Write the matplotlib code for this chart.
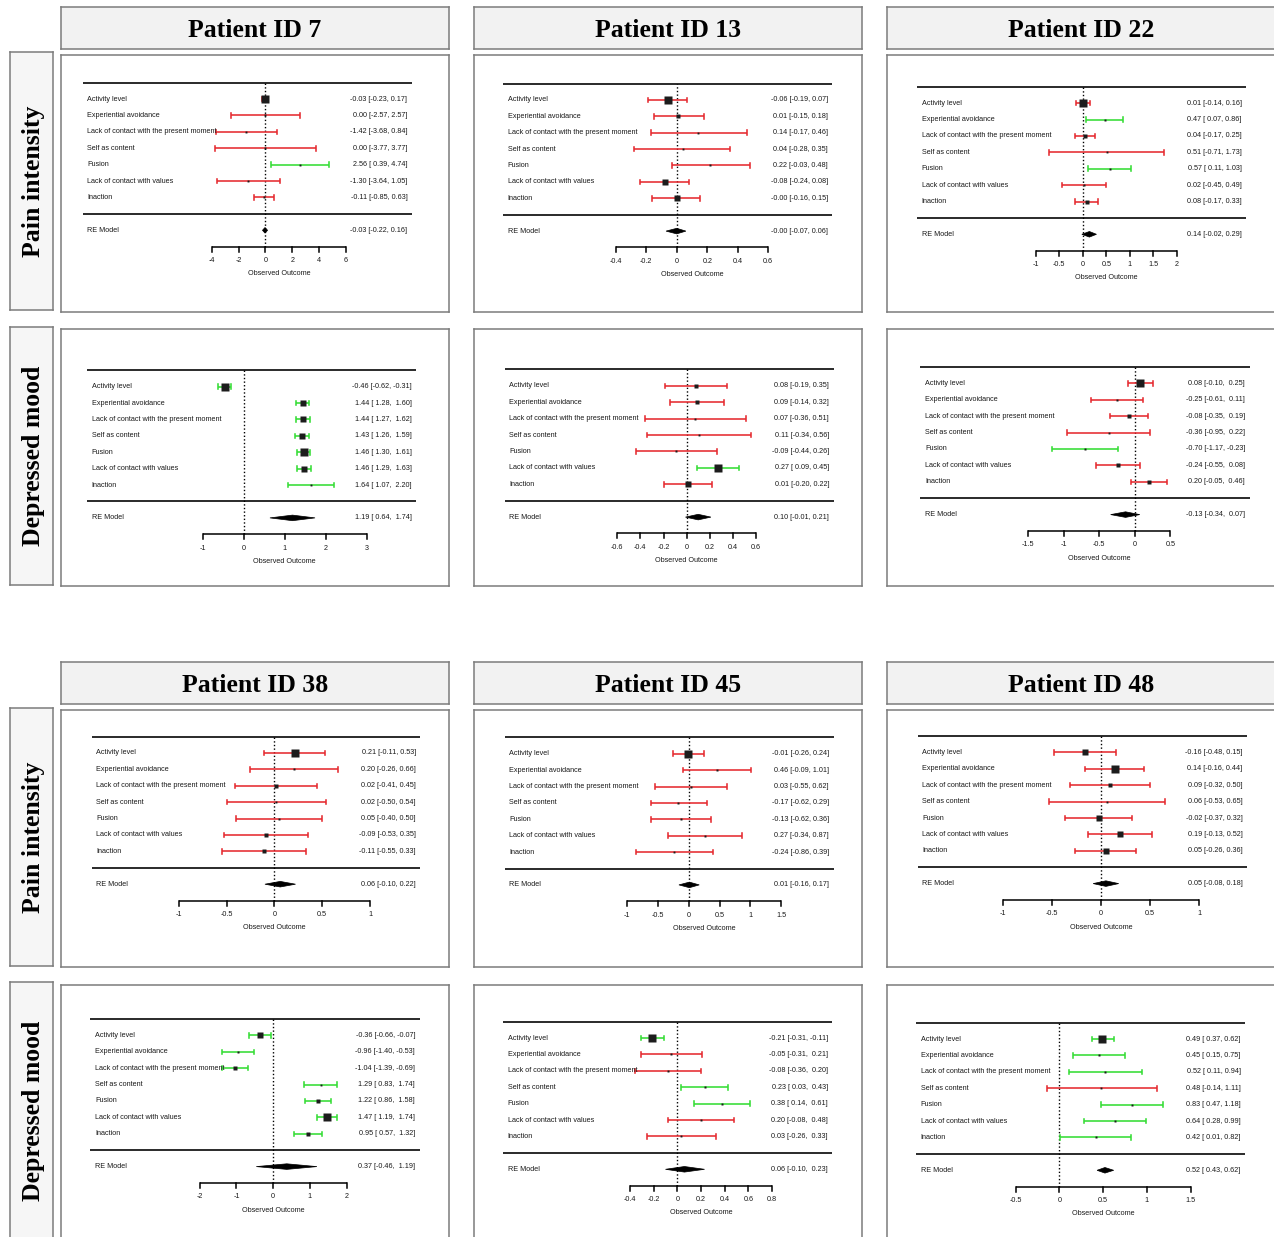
import matplotlib
matplotlib.use("Agg")
import matplotlib.pyplot as plt
from matplotlib.patches import Polygon

plt.rcParams['font.family'] = ['Liberation Sans', 'DejaVu Sans']

# ---------------- DATA ----------------
ITEMS = ["Activity level", "Experiential avoidance",
         "Lack of contact with the present moment", "Self as content",
         "Fusion", "Lack of contact with values", "Inaction"]
PATIENTS_TOP = ["7", "13", "22"]
PATIENTS_BOTTOM = ["38", "45", "48"]
OUTCOMES = ["Pain intensity", "Depressed mood"]

# Patient 7
P7_PAIN_EST = [-0.03, 0.00, -1.42, 0.00, 2.56, -1.30, -0.11]
P7_PAIN_LO = [-0.23, -2.57, -3.68, -3.77, 0.39, -3.64, -0.85]
P7_PAIN_HI = [0.17, 2.57, 0.84, 3.77, 4.74, 1.05, 0.63]
P7_PAIN_RE = [-0.03, -0.22, 0.16]
P7_PAIN_TICKS = [-4, -2, 0, 2, 4, 6]

P7_DEP_EST = [-0.46, 1.44, 1.44, 1.43, 1.46, 1.46, 1.64]
P7_DEP_LO = [-0.62, 1.28, 1.27, 1.26, 1.30, 1.29, 1.07]
P7_DEP_HI = [-0.31, 1.60, 1.62, 1.59, 1.61, 1.63, 2.20]
P7_DEP_RE = [1.19, 0.64, 1.74]
P7_DEP_TICKS = [-1, 0, 1, 2, 3]

# Patient 13
P13_PAIN_EST = [-0.06, 0.01, 0.14, 0.04, 0.22, -0.08, -0.0]
P13_PAIN_LO = [-0.19, -0.15, -0.17, -0.28, -0.03, -0.24, -0.16]
P13_PAIN_HI = [0.07, 0.18, 0.46, 0.35, 0.48, 0.08, 0.15]
P13_PAIN_RE = [-0.0, -0.07, 0.06]
P13_PAIN_TICKS = [-0.4, -0.2, 0, 0.2, 0.4, 0.6]

P13_DEP_EST = [0.08, 0.09, 0.07, 0.11, -0.09, 0.27, 0.01]
P13_DEP_LO = [-0.19, -0.14, -0.36, -0.34, -0.44, 0.09, -0.20]
P13_DEP_HI = [0.35, 0.32, 0.51, 0.56, 0.26, 0.45, 0.22]
P13_DEP_RE = [0.10, -0.01, 0.21]
P13_DEP_TICKS = [-0.6, -0.4, -0.2, 0, 0.2, 0.4, 0.6]

# Patient 22
P22_PAIN_EST = [0.01, 0.47, 0.04, 0.51, 0.57, 0.02, 0.08]
P22_PAIN_LO = [-0.14, 0.07, -0.17, -0.71, 0.11, -0.45, -0.17]
P22_PAIN_HI = [0.16, 0.86, 0.25, 1.73, 1.03, 0.49, 0.33]
P22_PAIN_RE = [0.14, -0.02, 0.29]
P22_PAIN_TICKS = [-1, -0.5, 0, 0.5, 1, 1.5, 2]

P22_DEP_EST = [0.08, -0.25, -0.08, -0.36, -0.70, -0.24, 0.20]
P22_DEP_LO = [-0.10, -0.61, -0.35, -0.95, -1.17, -0.55, -0.05]
P22_DEP_HI = [0.25, 0.11, 0.19, 0.22, -0.23, 0.08, 0.46]
P22_DEP_RE = [-0.13, -0.34, 0.07]
P22_DEP_TICKS = [-1.5, -1, -0.5, 0, 0.5]

# Patient 38
P38_PAIN_EST = [0.21, 0.20, 0.02, 0.02, 0.05, -0.09, -0.11]
P38_PAIN_LO = [-0.11, -0.26, -0.41, -0.50, -0.40, -0.53, -0.55]
P38_PAIN_HI = [0.53, 0.66, 0.45, 0.54, 0.50, 0.35, 0.33]
P38_PAIN_RE = [0.06, -0.10, 0.22]
P38_PAIN_TICKS = [-1, -0.5, 0, 0.5, 1]

P38_DEP_EST = [-0.36, -0.96, -1.04, 1.29, 1.22, 1.47, 0.95]
P38_DEP_LO = [-0.66, -1.40, -1.39, 0.83, 0.86, 1.19, 0.57]
P38_DEP_HI = [-0.07, -0.53, -0.69, 1.74, 1.58, 1.74, 1.32]
P38_DEP_RE = [0.37, -0.46, 1.19]
P38_DEP_TICKS = [-2, -1, 0, 1, 2]

# Patient 45
P45_PAIN_EST = [-0.01, 0.46, 0.03, -0.17, -0.13, 0.27, -0.24]
P45_PAIN_LO = [-0.26, -0.09, -0.55, -0.62, -0.62, -0.34, -0.86]
P45_PAIN_HI = [0.24, 1.01, 0.62, 0.29, 0.36, 0.87, 0.39]
P45_PAIN_RE = [0.01, -0.16, 0.17]
P45_PAIN_TICKS = [-1, -0.5, 0, 0.5, 1, 1.5]

P45_DEP_EST = [-0.21, -0.05, -0.08, 0.23, 0.38, 0.20, 0.03]
P45_DEP_LO = [-0.31, -0.31, -0.36, 0.03, 0.14, -0.08, -0.26]
P45_DEP_HI = [-0.11, 0.21, 0.20, 0.43, 0.61, 0.48, 0.33]
P45_DEP_RE = [0.06, -0.10, 0.23]
P45_DEP_TICKS = [-0.4, -0.2, 0, 0.2, 0.4, 0.6, 0.8]

# Patient 48
P48_PAIN_EST = [-0.16, 0.14, 0.09, 0.06, -0.02, 0.19, 0.05]
P48_PAIN_LO = [-0.48, -0.16, -0.32, -0.53, -0.37, -0.13, -0.26]
P48_PAIN_HI = [0.15, 0.44, 0.50, 0.65, 0.32, 0.52, 0.36]
P48_PAIN_RE = [0.05, -0.08, 0.18]
P48_PAIN_TICKS = [-1, -0.5, 0, 0.5, 1]

P48_DEP_EST = [0.49, 0.45, 0.52, 0.48, 0.83, 0.64, 0.42]
P48_DEP_LO = [0.37, 0.15, 0.11, -0.14, 0.47, 0.28, 0.01]
P48_DEP_HI = [0.62, 0.75, 0.94, 1.11, 1.18, 0.99, 0.82]
P48_DEP_RE = [0.52, 0.43, 0.62]
P48_DEP_TICKS = [-0.5, 0, 0.5, 1, 1.5]

PANELS = {
    ("7", 0): (P7_PAIN_EST, P7_PAIN_LO, P7_PAIN_HI, P7_PAIN_RE, P7_PAIN_TICKS),
    ("7", 1): (P7_DEP_EST, P7_DEP_LO, P7_DEP_HI, P7_DEP_RE, P7_DEP_TICKS),
    ("13", 0): (P13_PAIN_EST, P13_PAIN_LO, P13_PAIN_HI, P13_PAIN_RE, P13_PAIN_TICKS),
    ("13", 1): (P13_DEP_EST, P13_DEP_LO, P13_DEP_HI, P13_DEP_RE, P13_DEP_TICKS),
    ("22", 0): (P22_PAIN_EST, P22_PAIN_LO, P22_PAIN_HI, P22_PAIN_RE, P22_PAIN_TICKS),
    ("22", 1): (P22_DEP_EST, P22_DEP_LO, P22_DEP_HI, P22_DEP_RE, P22_DEP_TICKS),
    ("38", 0): (P38_PAIN_EST, P38_PAIN_LO, P38_PAIN_HI, P38_PAIN_RE, P38_PAIN_TICKS),
    ("38", 1): (P38_DEP_EST, P38_DEP_LO, P38_DEP_HI, P38_DEP_RE, P38_DEP_TICKS),
    ("45", 0): (P45_PAIN_EST, P45_PAIN_LO, P45_PAIN_HI, P45_PAIN_RE, P45_PAIN_TICKS),
    ("45", 1): (P45_DEP_EST, P45_DEP_LO, P45_DEP_HI, P45_DEP_RE, P45_DEP_TICKS),
    ("48", 0): (P48_PAIN_EST, P48_PAIN_LO, P48_PAIN_HI, P48_PAIN_RE, P48_PAIN_TICKS),
    ("48", 1): (P48_DEP_EST, P48_DEP_LO, P48_DEP_HI, P48_DEP_RE, P48_DEP_TICKS),
}

# ---------------- LAYOUT (pixels) ----------------
FIG_W, FIG_H = 1274, 1237
COL_LEFT = [61, 474, 887]
BOX_W, BOX_H = 388, 257
HEADER_TOP = [7, 662]
HEADER_H = 42
PANEL_TOP = [[55, 329], [710, 985]]
ROWLAB_TOP = [[52, 327], [708, 982]]
ROWLAB_X, ROWLAB_W, ROWLAB_H = 10, 43, 258
ROW_PX = 16.4
# per panel: label x, pixel x of first tick, pixel x of last tick, y of top rule
PANEL_LAYOUT = {
    ("7", 0): (87.3, 211.7, 346.0, 82.7),
    ("13", 0): (507.7, 615.7, 768.3, 83.5),
    ("22", 0): (921.7, 1035.7, 1177.0, 86.7),
    ("7", 1): (91.7, 202.7, 366.7, 370.3),
    ("13", 1): (509.0, 617.3, 756.0, 369.5),
    ("22", 1): (925.0, 1028.3, 1170.3, 367.0),
    ("38", 0): (96.0, 179.0, 370.0, 736.6),
    ("45", 0): (509.0, 627.3, 781.0, 737.3),
    ("48", 0): (922.3, 1002.7, 1199.3, 736.0),
    ("38", 1): (95.0, 199.7, 346.7, 1019.0),
    ("45", 1): (507.7, 630.0, 772.0, 1021.7),
    ("48", 1): (920.7, 1015.7, 1190.7, 1022.7),
}

RED = "#e52a30"
GREEN = "#35dd35"
SQ = "#1c1c1c"
TXT = "#1a1a1a"
FS = 5.2

fig = plt.figure(figsize=(FIG_W / 100, FIG_H / 100), dpi=100)


def px_axes(L, T, W, H):
    return fig.add_axes([L / FIG_W, 1 - (T + H) / FIG_H, W / FIG_W, H / FIG_H])


def style_box(ax, face):
    ax.set_facecolor(face)
    ax.set_xticks([])
    ax.set_yticks([])
    for s in ax.spines.values():
        s.set_color("#7c7c7c")
        s.set_linewidth(1.1)


def fmt_col(vals):
    strs = [f"{v:.2f}" for v in vals]
    w = max(len(s) for s in strs)
    return [s.rjust(w) for s in strs]


def draw_panel(ax, key, L, T):
    est, lo, hi, re, ticks = PANELS[key]
    lab_px, a_px, b_px, top_px = PANEL_LAYOUT[key]
    t0, t1 = ticks[0], ticks[-1]
    scale = (b_px - a_px) / (t1 - t0)
    xl = t0 - (a_px - L) / scale
    ax.set_xlim(xl, xl + BOX_W / scale)
    ytop = 8 + (top_px - T) / ROW_PX
    ax.set_ylim(ytop - BOX_H / ROW_PX, ytop)

    def px2x(px):
        return xl + (px - L) / scale

    k = len(est)
    rows = list(range(k, 0, -1))
    # horizontal rules
    for yy in (k + 1, 0):
        ax.plot([px2x(lab_px - 4.5), px2x(lab_px + 324.5)], [yy, yy],
                color="#2a2a2a", lw=1.4, solid_capstyle="butt")
    # reference line
    ax.plot([0, 0], [-2, k + 1], color="black", lw=1.0, ls=(0, (1, 1.6)))

    # square sizes from precision
    wts = [1.0 / ((h - l) / 3.92) ** 2 for l, h in zip(lo, hi)]
    wmin, wmax = min(wts), max(wts)

    lo_s = fmt_col(list(lo) + [re[1]])
    hi_s = fmt_col(list(hi) + [re[2]])
    cap = 0.14
    for i, r in enumerate(rows):
        col = GREEN if (lo[i] > 0 or hi[i] < 0) else RED
        ax.plot([lo[i], hi[i]], [r, r], color=col, lw=1.15, solid_capstyle="butt")
        for xv in (lo[i], hi[i]):
            ax.plot([xv, xv], [r - cap, r + cap], color=col, lw=1.15)
        nrm = (wts[i] - wmin) / (wmax - wmin) if wmax > wmin else 1.0
        side = 1.9 + nrm * 5.3
        ax.plot(est[i], r, marker="s", ms=side * 0.72, color=SQ, mec="none")
        ax.text(px2x(lab_px), r, ITEMS[i], ha="left", va="center",
                fontsize=FS, color=TXT)
        ax.text(px2x(lab_px + 320), r, f"{est[i]:.2f} [{lo_s[i]}, {hi_s[i]}]",
                ha="right", va="center", fontsize=FS, color=TXT)
    # RE model diamond
    h = 0.17
    ax.add_patch(Polygon([(re[1], -1), (re[0], -1 + h), (re[2], -1), (re[0], -1 - h)],
                         closed=True, fc="black", ec="black", lw=0.5))
    ax.text(px2x(lab_px), -1, "RE Model", ha="left", va="center", fontsize=FS, color=TXT)
    ax.text(px2x(lab_px + 320), -1, f"{re[0]:.2f} [{lo_s[-1]}, {hi_s[-1]}]",
            ha="right", va="center", fontsize=FS, color=TXT)
    # x axis
    ax.plot([t0, t1], [-2, -2], color="black", lw=1.1, solid_capstyle="butt")
    for t in ticks:
        ax.plot([t, t], [-2, -2.3], color="black", lw=1.1)
        ax.text(t, -2.85, f"{t:g}", ha="center", va="center", fontsize=FS, color=TXT)
    ax.text((t0 + t1) / 2, -3.65, "Observed Outcome", ha="center", va="center",
            fontsize=FS, color=TXT)


for g, pats in enumerate([PATIENTS_TOP, PATIENTS_BOTTOM]):
    for c, pid in enumerate(pats):
        hax = px_axes(COL_LEFT[c], HEADER_TOP[g], BOX_W, HEADER_H)
        style_box(hax, "#f2f2f2")
        hax.text(0.5, 0.45, f"Patient ID {pid}", ha="center", va="center",
                 transform=hax.transAxes, fontsize=18.5, fontweight="bold",
                 family=["Liberation Serif", "DejaVu Serif"], color="black")
    for r, outcome in enumerate(OUTCOMES):
        rax = px_axes(ROWLAB_X, ROWLAB_TOP[g][r], ROWLAB_W, ROWLAB_H)
        style_box(rax, "#f6f6f6")
        rax.text(0.55, 0.5, outcome, ha="center", va="center", rotation=90,
                 transform=rax.transAxes, fontsize=18.5, fontweight="bold",
                 family=["Liberation Serif", "DejaVu Serif"], color="black")
        for c, pid in enumerate(pats):
            L, T = COL_LEFT[c], PANEL_TOP[g][r]
            ax = px_axes(L, T, BOX_W, BOX_H)
            style_box(ax, "white")
            draw_panel(ax, (pid, r), L, T)

fig.savefig("out.png", dpi=100)
